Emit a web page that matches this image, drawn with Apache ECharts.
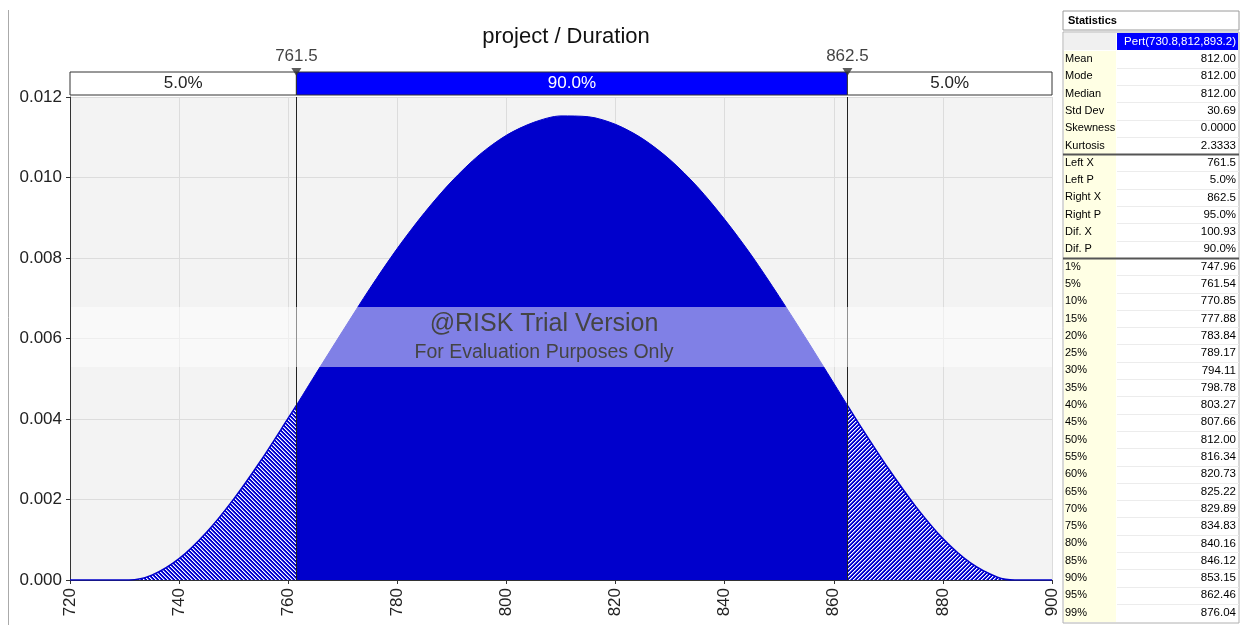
<!DOCTYPE html>
<html>
<head>
<meta charset="utf-8">
<script src="https://cdn.jsdelivr.net/npm/echarts@6/dist/echarts.min.js"></script>
<style>
  html, body { margin: 0; padding: 0; background: #fff; }
  #chart { width: 1246px; height: 625px; }
</style>
</head>
<body>
<div id="chart"></div>
<script>
// density curve (x, density)
const leftTailX = [720, 730.8, 735, 740, 745, 750, 755, 760, 761.5]
const leftTailY = [0, 0, 0.00012, 0.00053, 0.00118, 0.00201, 0.00297, 0.00402, 0.00434]
const midX = [761.5, 765, 770, 775, 780, 785, 790, 795, 800, 805, 810, 815, 820, 825, 830, 835, 840, 845, 850, 855, 860, 862.5]
const midY = [0.00434, 0.00511, 0.00619, 0.00725, 0.00824, 0.00913, 0.00991, 0.01056, 0.01105, 0.01137, 0.01153, 0.01151, 0.01132, 0.01096, 0.01044, 0.00977, 0.00896, 0.00805, 0.00704, 0.00598, 0.00489, 0.00434]
const rightTailX = [862.5, 865, 870, 875, 880, 885, 890, 893.2, 900]
const rightTailY = [0.00434, 0.0038, 0.00277, 0.00183, 0.00103, 0.00043, 0.00007, 0, 0]

const leftX = 761.5
const rightX = 862.5
const barEdges = [720, leftX, rightX, 900]
const barLabels = ['5.0%', '90.0%', '5.0%']
const xTicks = { min: 720, max: 900, step: 20 }
const yTicks = { min: 0, max: 0.012, step: 0.002 }

const statLabels = ['Mean', 'Mode', 'Median', 'Std Dev', 'Skewness', 'Kurtosis',
  'Left X', 'Left P', 'Right X', 'Right P', 'Dif. X', 'Dif. P',
  '1%', '5%', '10%', '15%', '20%', '25%', '30%', '35%', '40%', '45%', '50%',
  '55%', '60%', '65%', '70%', '75%', '80%', '85%', '90%', '95%', '99%']
const statValues = ['812.00', '812.00', '812.00', '30.69', '0.0000', '2.3333',
  '761.5', '5.0%', '862.5', '95.0%', '100.93', '90.0%',
  '747.96', '761.54', '770.85', '777.88', '783.84', '789.17', '794.11', '798.78', '803.27', '807.66', '812.00',
  '816.34', '820.73', '825.22', '829.89', '834.83', '840.16', '846.12', '853.15', '862.46', '876.04']
const distName = 'Pert(730.8,812,893.2)'

const zip = (xs, ys) => xs.map((x, i) => [x, ys[i]])

// hatched fill for the tails, pixel tile 4x4
function hatch(dir) {
  const c = document.createElement('canvas')
  c.width = 4; c.height = 4
  const ctx = c.getContext('2d')
  const cols = ['#ffffff', '#7474f4', '#0000cc', '#0000cc']
  for (let x = 0; x < 4; x++) {
    for (let y = 0; y < 4; y++) {
      const k = ((dir > 0 ? x + y : x - y) % 4 + 4) % 4
      ctx.fillStyle = cols[k]
      ctx.fillRect(x, y, 1, 1)
    }
  }
  return c
}

const chart = echarts.init(document.getElementById('chart'))
const FONT = 'Liberation Sans'
const plotLeft = 70, plotRight = 194

// statistics table on the right
const tbl = []
const tx0 = 1063, tx1 = 1116, tx2 = 1239
const rowH = 17.3, row0 = 59
tbl.push({ type: 'rect', shape: { x: tx0, y: 11, width: tx2 - tx0, height: 19 }, style: { fill: '#fff', stroke: '#9a9a9a', lineWidth: 1 } })
tbl.push({ type: 'text', x: tx0 + 5, y: 20.5, style: { text: 'Statistics', font: 'bold 11px ' + FONT, fill: '#000', verticalAlign: 'middle' } })
tbl.push({ type: 'rect', shape: { x: tx0, y: 32, width: tx2 - tx0, height: 591 }, style: { fill: '#fff', stroke: '#b0b0b0', lineWidth: 1 } })
tbl.push({ type: 'rect', shape: { x: tx0 + 1, y: 33, width: tx1 - tx0 - 1, height: 17 }, style: { fill: '#f0f0f0' } })
tbl.push({ type: 'rect', shape: { x: tx1 + 1, y: 33, width: tx2 - tx1 - 2, height: 17 }, style: { fill: '#0000ff' } })
tbl.push({ type: 'text', x: tx2 - 3, y: 42, style: { text: distName, font: '11.5px ' + FONT, fill: '#fff', align: 'right', verticalAlign: 'middle' } })
tbl.push({ type: 'rect', shape: { x: tx0 + 1, y: 51, width: tx1 - tx0 - 1, height: 571 }, style: { fill: '#ffffe4' } })
statLabels.forEach((lab, i) => {
  const cy = row0 + i * rowH
  tbl.push({ type: 'text', x: tx0 + 2, y: cy, style: { text: lab, font: '11px ' + FONT, fill: '#000', verticalAlign: 'middle' } })
  tbl.push({ type: 'text', x: tx2 - 3, y: cy, style: { text: statValues[i], font: '11.5px ' + FONT, fill: '#000', align: 'right', verticalAlign: 'middle' } })
  const ly = Math.round(cy + rowH / 2) + 0.5
  const sep = i === 5 || i === 11
  if (i < statLabels.length - 1) {
    tbl.push({ type: 'line', shape: { x1: sep ? tx0 : tx1 + 1, y1: ly, x2: tx2, y2: ly }, style: { stroke: sep ? '#555' : '#ececec', lineWidth: sep ? 2 : 1 } })
  }
})

const option = {
  backgroundColor: '#fff',
  animation: false,
  title: {
    text: 'project / Duration',
    left: 561, top: 21, textAlign: 'center',
    textStyle: { fontFamily: FONT, fontSize: 22, fontWeight: 'normal', color: '#111' }
  },
  grid: [
    { left: plotLeft, right: plotRight, top: 97, bottom: 45, show: true, backgroundColor: '#f3f3f3', borderWidth: 0 },
    { left: plotLeft, right: plotRight, top: 72, height: 24 }
  ],
  xAxis: [
    {
      type: 'value', gridIndex: 0, min: xTicks.min, max: xTicks.max, interval: xTicks.step,
      axisLine: { lineStyle: { color: '#333' } },
      axisTick: { show: true, length: 4, lineStyle: { color: '#333' } },
      axisLabel: { rotate: 90, fontFamily: FONT, fontSize: 17, color: '#222', margin: 8 },
      splitLine: { show: true, lineStyle: { color: '#dcdcdc' } }
    },
    { type: 'value', gridIndex: 1, min: xTicks.min, max: xTicks.max, show: false }
  ],
  yAxis: [
    {
      type: 'value', gridIndex: 0, min: yTicks.min, max: yTicks.max, interval: yTicks.step,
      axisLine: { show: true, lineStyle: { color: '#333' } },
      axisTick: { show: true, length: 4, lineStyle: { color: '#333' } },
      axisLabel: { fontFamily: FONT, fontSize: 17, color: '#222', margin: 8, formatter: v => v.toFixed(3) },
      splitLine: { show: true, lineStyle: { color: '#dcdcdc' } }
    },
    { type: 'value', gridIndex: 1, min: 0, max: 1, show: false }
  ],
  series: [
    {
      type: 'line', data: zip(leftTailX, leftTailY), showSymbol: false, smooth: 0.3,
      lineStyle: { color: '#0000cc', width: 1.5 },
      areaStyle: { color: { image: hatch(-1), repeat: 'repeat' }, opacity: 1 }
    },
    {
      type: 'line', data: zip(midX, midY), showSymbol: false, smooth: 0.3,
      lineStyle: { color: '#0000cc', width: 1 },
      areaStyle: { color: '#0000cc', opacity: 1 },
      markLine: {
        silent: true, symbol: ['none', 'none'],
        lineStyle: { color: '#222', width: 1, type: 'solid' },
        label: { show: false },
        data: [{ xAxis: leftX }, { xAxis: rightX }]
      }
    },
    {
      type: 'line', data: zip(rightTailX, rightTailY), showSymbol: false, smooth: 0.3,
      lineStyle: { color: '#0000cc', width: 1.5 },
      areaStyle: { color: { image: hatch(1), repeat: 'repeat' }, opacity: 1 }
    },
    {
      type: 'custom', xAxisIndex: 1, yAxisIndex: 1,
      data: barLabels.map((l, i) => [barEdges[i], barEdges[i + 1]]),
      renderItem: (params, api) => {
        const p0 = api.coord([api.value(0), 1])
        const p1 = api.coord([api.value(1), 0])
        const mid = params.dataIndex === 1
        return {
          type: 'rect',
          shape: { x: p0[0], y: p0[1], width: p1[0] - p0[0], height: p1[1] - p0[1] - 1 },
          style: { fill: mid ? '#0000ff' : '#ffffff', stroke: '#333', lineWidth: 1 },
          textContent: { style: { text: barLabels[params.dataIndex], fontFamily: FONT, fontSize: 17, fill: mid ? '#fff' : '#222' } },
          textConfig: { position: 'inside' }
        }
      }
    },
    {
      type: 'scatter', xAxisIndex: 1, yAxisIndex: 1, clip: false,
      data: [[leftX, 1], [rightX, 1]],
      symbol: 'triangle', symbolRotate: 180, symbolSize: [10, 8],
      itemStyle: { color: '#333' },
      label: { show: true, position: 'top', distance: 3, fontFamily: FONT, fontSize: 17, color: '#111', formatter: p => p.value[0].toFixed(1) },
      z: 5
    }
  ],
  graphic: [
    { type: 'line', shape: { x1: 8.5, y1: 10, x2: 8.5, y2: 625 }, style: { stroke: '#aaa', lineWidth: 1 } },
    { type: 'rect', shape: { x: plotLeft + 1, y: 307, width: 1052 - plotLeft - 1, height: 60 }, style: { fill: 'rgba(255,255,255,0.5)' }, z: 100 },
    { type: 'text', x: 544, y: 324, style: { text: '@RISK Trial Version', font: '25px ' + FONT, fill: '#444', align: 'center', verticalAlign: 'middle' }, z: 101 },
    { type: 'text', x: 544, y: 353, style: { text: 'For Evaluation Purposes Only', font: '19.5px ' + FONT, fill: '#444', align: 'center', verticalAlign: 'middle' }, z: 101 }
  ].concat(tbl)
}
chart.setOption(option)
</script>
</body>
</html>
